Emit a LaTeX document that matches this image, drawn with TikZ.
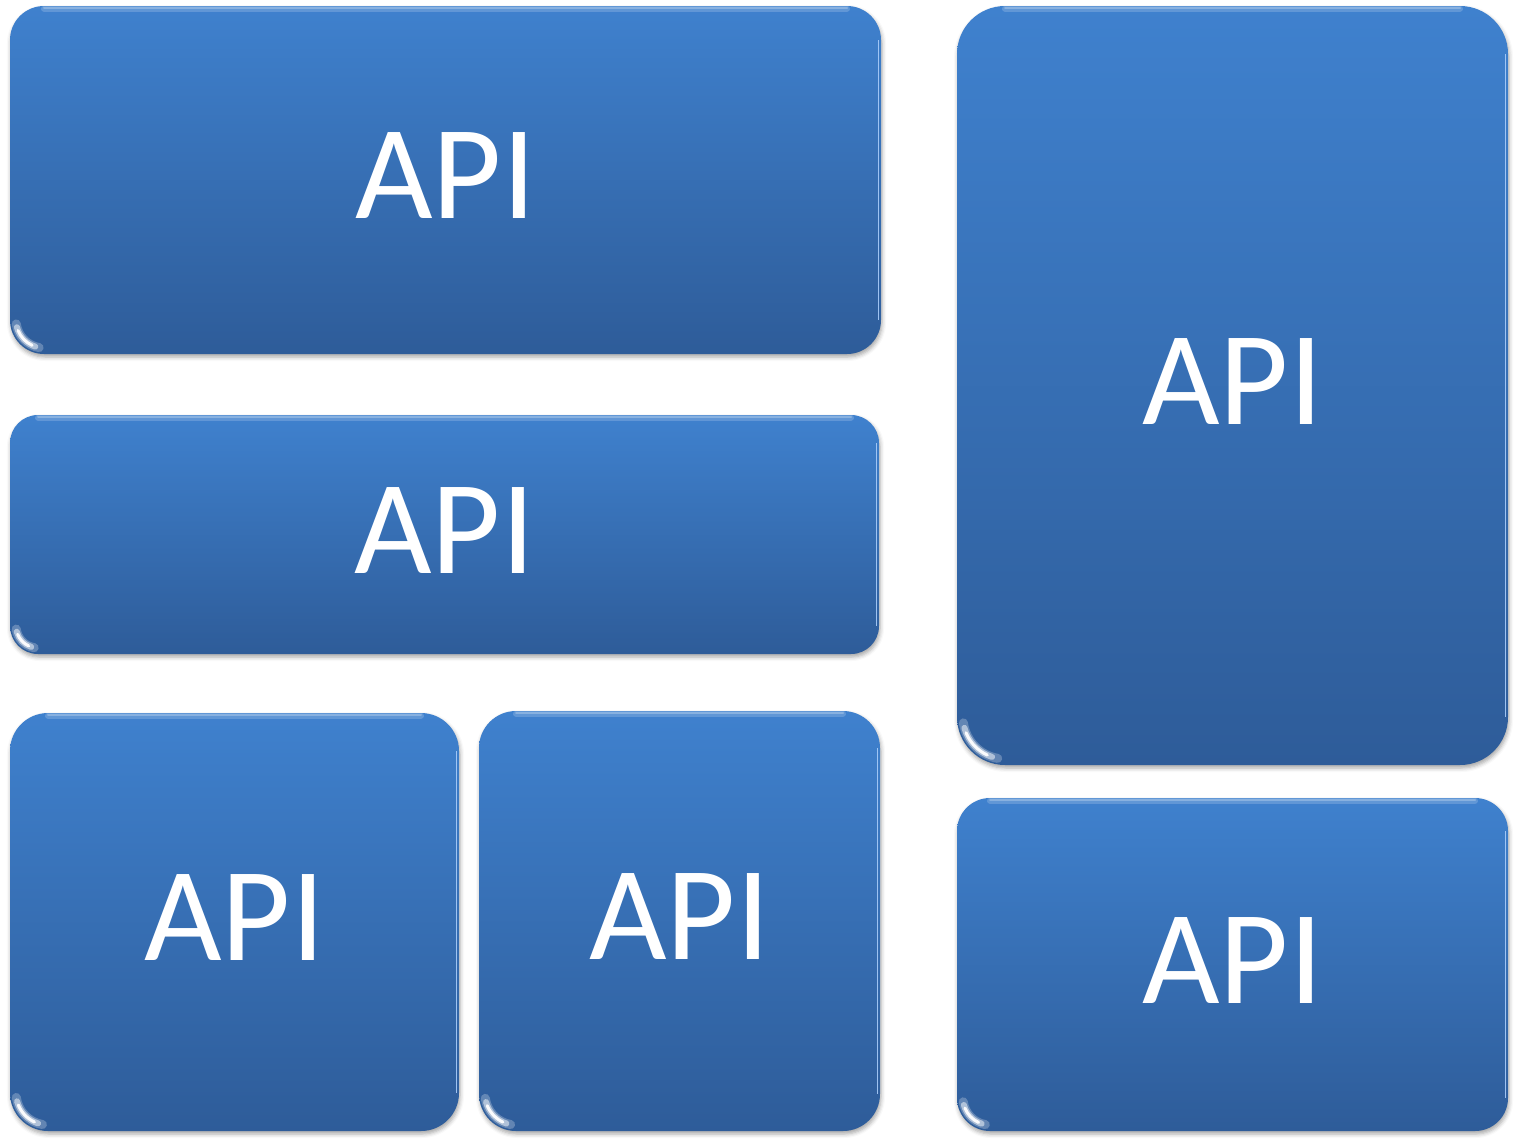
\documentclass[tikz,border=0pt]{standalone}
\usepackage{fontspec}
\setmainfont{Carlito}
\usetikzlibrary{shadows.blur,calc}
\definecolor{boxtop}{RGB}{63,129,206}
\definecolor{boxbot}{RGB}{46,92,153}
\definecolor{edgelight}{RGB}{170,205,250}
\newcommand{\apitext}{\raisebox{4pt}[\height][\depth]{API}}
\begin{document}
\begin{tikzpicture}[x=1pt,y=-1pt,
  apibox/.style={rounded corners=#1 pt, top color=boxtop, bottom color=boxbot,
    draw=none, inner sep=0pt, text=white,
    font=\fontsize{134}{140}\selectfont,
    blur shadow={shadow xshift=1pt, shadow yshift=-3pt, shadow blur radius=4pt, shadow opacity=35},
    path picture={
      \draw[white, opacity=0.18, line width=6pt, line cap=round]
        ($(path picture bounding box.north west)+(#1,2.5)$) -- ($(path picture bounding box.north east)+(-#1,2.5)$);
      \draw[white, opacity=0.25, line width=2pt, line cap=round]
        ($(path picture bounding box.north west)+(#1,1.5)$) -- ($(path picture bounding box.north east)+(-#1,1.5)$);
      \draw[edgelight, opacity=0.9, line width=1.8pt]
        ($(path picture bounding box.north east)+(-2.5,#1)$) -- ($(path picture bounding box.south east)+(-2.5,-#1)$);
      \draw[white, opacity=0.25, line width=9pt, line cap=round]
        ($(path picture bounding box.south west)+(#1,-#1)$) ++(172:#1-6) arc[start angle=172, end angle=100, radius=#1-6];
      \draw[white, opacity=0.5, line width=6pt, line cap=round]
        ($(path picture bounding box.south west)+(#1,-#1)$) ++(165:#1-6) arc[start angle=165, end angle=108, radius=#1-6];
      \draw[white, opacity=0.95, line width=3pt, line cap=round]
        ($(path picture bounding box.south west)+(#1,-#1)$) ++(158:#1-6) arc[start angle=158, end angle=115, radius=#1-6];
    }}]
\useasboundingbox (0,0) rectangle (1518,1143);
\node[apibox=34, minimum width=871pt, minimum height=348pt] (a1) at (445.5,180) {\apitext};
\node[apibox=28, minimum width=869pt, minimum height=239pt] (a2) at (444.5,534.5) {\apitext};
\node[apibox=38, minimum width=449pt, minimum height=418pt] (a3) at (234.5,922) {\apitext};
\node[apibox=37, minimum width=401pt, minimum height=420pt] (a4) at (679.5,921) {\apitext};
\node[apibox=48, minimum width=551pt, minimum height=759pt] (a5) at (1232.5,385.5) {\apitext};
\node[apibox=33, minimum width=551pt, minimum height=333pt] (a6) at (1232.5,964.5) {\apitext};
\end{tikzpicture}
\end{document}
